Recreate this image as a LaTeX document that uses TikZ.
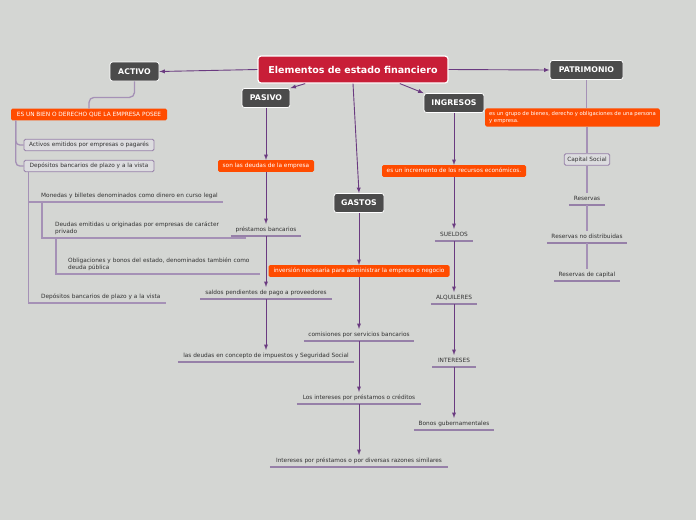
\documentclass[tikz,border=0pt]{standalone}
\usepackage{fontspec}
\setmainfont{DejaVu Sans}
\usetikzlibrary{calc,arrows,positioning}
\definecolor{bgcol}{RGB}{212,214,211}
\definecolor{maincol}{RGB}{200,30,55}
\definecolor{boxcol}{RGB}{75,75,75}
\definecolor{redcol}{RGB}{255,76,0}
\definecolor{arrcol}{RGB}{106,58,128}
\definecolor{linecol}{RGB}{165,145,182}
\definecolor{ulcol}{RGB}{150,128,168}
\definecolor{txtcol}{RGB}{50,50,50}
\definecolor{greycol}{RGB}{220,220,223}

\begin{document}
\begin{tikzpicture}[x=1pt,y=-1pt,
        every node/.style={font=\fontsize{5.8}{7}\selectfont, text=txtcol},
        hl/.style={text height=4.4pt, text depth=1.2pt},
        title/.style={fill=maincol, draw=white, line width=1.2pt, rounded corners=3pt, text=white,
            font=\fontsize{9.5}{11}\selectfont\bfseries, minimum width=190pt, minimum height=27pt},
        topic/.style={fill=boxcol, draw=white, line width=0.8pt, rounded corners=2.5pt, text=white,
            font=\fontsize{7.8}{9}\selectfont\bfseries, minimum height=19pt},
        redbox/.style={fill=redcol, rounded corners=1.5pt, text=white, inner sep=3pt},
        note/.style={redbox, hl},
        gbox/.style={fill=greycol, draw=ulcol, line width=0.8pt, rounded corners=1.5pt, inner sep=3pt, hl},
        item/.style={anchor=south, minimum width=#1, inner ysep=3pt, hl},
        leaf/.style={anchor=south west, text width=#1, align=left, inner xsep=0pt, inner ysep=3pt},
        arr/.style={arrcol, line width=0.9pt, -latex},
        tree/.style={linecol, line width=1.3pt},
        uline/.style={ulcol, line width=1.3pt}]
        \fill[bgcol] (0,0) rectangle (696,520);

        \node[title] (fin) at (353,69.5) {Elementos de estado financiero};
        \node[topic, minimum width=49pt] (activo) at (134.5,71.5) {ACTIVO};
        \node[topic, minimum width=48pt] (pasivo) at (266,98) {PASIVO};
        \node[topic, minimum width=60pt] (ingresos) at (454,103) {INGRESOS};
        \node[topic, minimum width=73pt] (patrimonio) at (586.5,70) {PATRIMONIO};
        \node[topic, minimum width=50pt] (gastos) at (359,203) {GASTOS};

        \node[note, minimum width=156pt] (bien) at (89,114.5) {ES UN BIEN O DERECHO QUE LA EMPRESA POSEE};
        \node[note, minimum width=96pt] (deudas) at (266,166) {son las deudas de la empresa};
        \node[note, minimum width=181pt] (inversion) at (359,271) {inversión necesaria para administrar la empresa o negocio};
        \node[note, minimum width=144pt] (incremento) at (454,171) {es un incremento de los recursos económicos.};
        \node[redbox, minimum width=167pt, align=left, inner xsep=4pt, font=\fontsize{5.3}{7}\selectfont]
            (grupo) at (572.5,117.5) {es un grupo de bienes, derecho y obligaciones de una persona\\y empresa.};

        \node[gbox, minimum width=130pt] (emitidos) at (89,145) {Activos emitidos por empresas o pagarés};
        \node[gbox, minimum width=130pt] (depositos) at (89,166) {Depósitos bancarios de plazo y a la vista};
        \node[gbox] (capital) at (587,159.5) {Capital Social};

        \node[leaf=182pt] (monedas) at (41,202) {Monedas y billetes denominados como dinero en curso legal};
        \node[leaf=191pt] (emitidas) at (55,238) {Deudas emitidas u originadas por empresas de carácter\\privado};
        \node[leaf=192pt] (bonos) at (68,274) {Obligaciones y bonos del estado, denominados también como\\deuda pública};
        \node[leaf=125pt] (plazo) at (41,303) {Depósitos bancarios de plazo y a la vista};

        \node[item=70pt] (prestamos) at (266,236) {préstamos bancarios};
        \node[item=131pt] (saldos) at (266,299) {saldos pendientes de pago a proveedores};
        \node[item=176pt] (impuestos) at (266,362) {las deudas en concepto de impuestos y Seguridad Social};
        \node[item=110pt] (comisiones) at (359,341) {comisiones por servicios bancarios};
        \node[item=124pt] (creditos) at (359,404) {Los intereses por préstamos o créditos};
        \node[item=178pt] (similares) at (359,467) {Intereses por préstamos o por diversas razones similares};
        \node[item=38pt] (sueldos) at (454,241) {SUELDOS};
        \node[item=46pt] (alquileres) at (454,304) {ALQUILERES};
        \node[item=43pt] (intereses) at (454,367) {INTERESES};
        \node[item=80pt] (bonosg) at (454,430) {Bonos gubernamentales};
        \node[item=36pt] (reservas) at (587,205) {Reservas};
        \node[item=80pt] (nodistr) at (587,243) {Reservas no distribuidas};
        \node[item=66pt] (rescap) at (587,281) {Reservas de capital};

        \foreach \n in {prestamos,saldos,impuestos,comisiones,creditos,similares,
            sueldos,alquileres,intereses,bonosg,reservas,nodistr,rescap}
            \draw[uline] (\n.south west) -- (\n.south east);

        \draw[arr] (fin.west) -- (activo.east);
        \draw[arr] (fin.east) -- (patrimonio.west);
        \draw[arr] ($(fin.south west)!.25!(fin.south east)$) -- (pasivo.north east);
        \draw[arr] ($(fin.south west)!.745!(fin.south east)$) -- (ingresos.north west);
        \draw[arr] (fin.south) -- (gastos.north);
        \foreach \a/\b in {pasivo/deudas,deudas/prestamos,prestamos/saldos,saldos/impuestos,
            gastos/inversion,inversion/comisiones,comisiones/creditos,creditos/similares,
            ingresos/incremento,incremento/sueldos,sueldos/alquileres,alquileres/intereses,intereses/bonosg}
            \draw[arr] (\a) -- (\b);

        \draw[tree, rounded corners=5pt] (activo.south) -- ++(0,16) -| (bien.north);
        \coordinate (b1) at ($(bien.south west)+(5,0)$);
        \coordinate (d1) at ($(depositos.south west)+(5,0)$);
        \draw[tree, rounded corners=4pt] (b1) |- (emitidos.west);
        \draw[tree, rounded corners=4pt] (b1) |- (depositos.west);
        \draw[tree] (d1) |- (monedas.south east);
        \draw[tree] (d1) |- (plazo.south east);
        \draw[tree] ($(monedas.south west)+(1,0)$) |- (emitidas.south east);
        \draw[tree] ($(emitidas.south west)+(1,0)$) |- (bonos.south east);

        \draw[tree] (patrimonio.south) -- (patrimonio.south |- grupo.north);
        \draw[tree] (capital.north |- grupo.south) -- (capital.north);
        \foreach \a/\b in {capital/reservas,reservas/nodistr,nodistr/rescap}
            \draw[tree] (\a) -- (\b);
    \end{tikzpicture}
\end{document}
